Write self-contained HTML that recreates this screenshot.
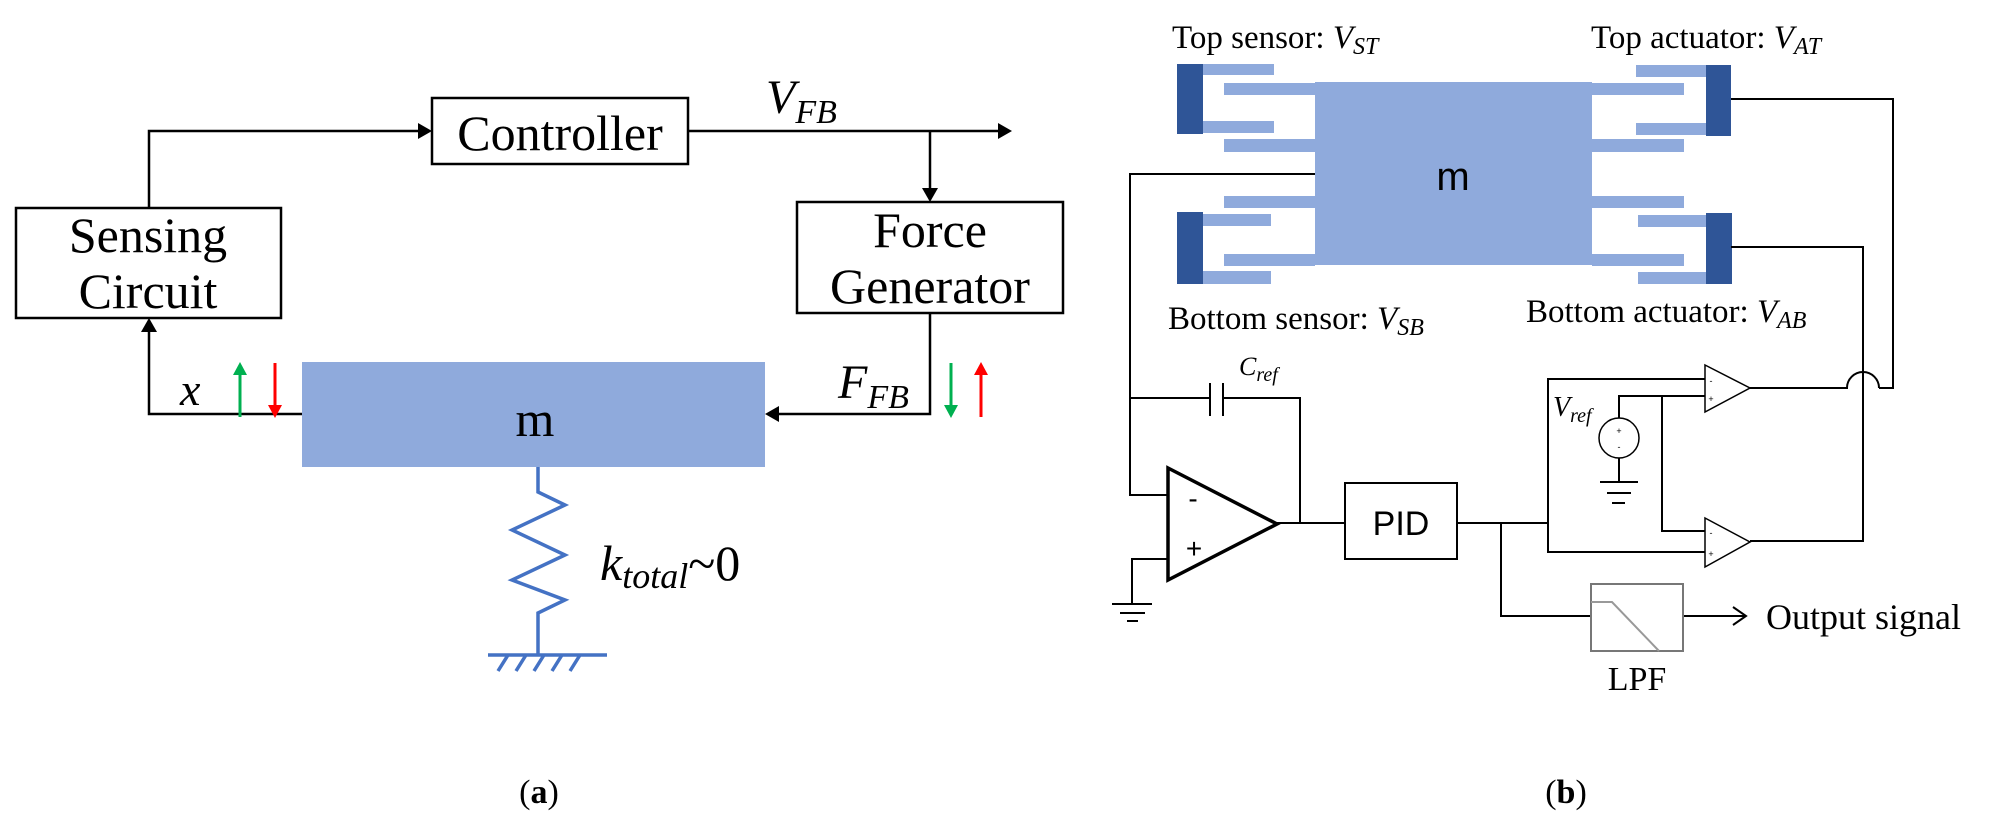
<!DOCTYPE html>
<html><head><meta charset="utf-8"><style>
html,body{margin:0;padding:0;background:#fff;}
svg{display:block;}
text{font-family:"Liberation Serif",serif;fill:#000;}
.s{font-family:"Liberation Sans",sans-serif;}
</style></head><body>
<svg width="2000" height="825" viewBox="0 0 2000 825" xmlns="http://www.w3.org/2000/svg">
<g stroke="#000" stroke-width="2.5" fill="none">
<rect x="432" y="98" width="256" height="66"/>
<rect x="16" y="208" width="265" height="110"/>
<rect x="797" y="202" width="266" height="111"/>
<polyline points="149,208 149,131 420,131"/>
<polyline points="688,131 1000,131"/>
<line x1="930" y1="131" x2="930" y2="190"/>
<polyline points="930,313 930,414 777,414"/>
<polyline points="302,414 149,414 149,330"/>
</g>
<g fill="#000">
<path d="M432,131 l-14,-8 v16z"/>
<path d="M1012,131 l-14,-8 v16z"/>
<path d="M930,202 l-8,-14 h16z"/>
<path d="M765,414 l14,-8 v16z"/>
<path d="M149,318 l-8,14 h16z"/>
</g>
<g stroke-width="3">
<line x1="240" y1="417" x2="240" y2="372" stroke="#00b050"/><path d="M240,362 l-7,13 h14z" fill="#00b050"/>
<line x1="275" y1="363" x2="275" y2="408" stroke="#ff0000"/><path d="M275,418 l-7,-13 h14z" fill="#ff0000"/>
<line x1="951" y1="363" x2="951" y2="408" stroke="#00b050"/><path d="M951,418 l-7,-13 h14z" fill="#00b050"/>
<line x1="981" y1="417" x2="981" y2="372" stroke="#ff0000"/><path d="M981,362 l-7,13 h14z" fill="#ff0000"/>
</g>
<rect x="302" y="362" width="463" height="105" fill="#8faadc"/>
<text x="535" y="436" font-size="50" text-anchor="middle">m</text>
<g stroke="#4472c4" stroke-width="3.5" fill="none">
<polyline points="538,467 538,492 565,505 512,530 565,555 512,580 565,600 538,613 538,655"/>
<line x1="488" y1="655" x2="607" y2="655"/>
<path d="M498,671 l10,-16 M516,671 l10,-16 M534,671 l10,-16 M552,671 l10,-16 M570,671 l10,-16"/>
</g>
<text x="560" y="150" font-size="50" text-anchor="middle">Controller</text>
<text x="148" y="252" font-size="50" text-anchor="middle">Sensing</text>
<text x="148" y="308" font-size="50" text-anchor="middle">Circuit</text>
<text x="930" y="247" font-size="50" text-anchor="middle">Force</text>
<text x="930" y="303" font-size="50" text-anchor="middle">Generator</text>
<text x="766" y="113" font-size="48" font-style="italic">V<tspan font-size="34" dy="10">FB</tspan></text>
<text x="838" y="398" font-size="48" font-style="italic">F<tspan font-size="34" dy="10">FB</tspan></text>
<text x="180" y="405" font-size="46" font-style="italic">x</text>
<text x="600" y="580" font-size="50" font-style="italic">k<tspan font-size="36" dy="8">total</tspan><tspan font-style="normal" font-size="50" dy="-8">~0</tspan></text>
<text x="539" y="803" font-size="34" text-anchor="middle">(<tspan font-weight="bold">a</tspan>)</text>

<g fill="#8faadc">
<rect x="1315" y="82" width="277" height="183"/>
<rect x="1224" y="83" width="91" height="12"/>
<rect x="1224" y="139" width="91" height="13"/>
<rect x="1224" y="196" width="91" height="12"/>
<rect x="1224" y="254" width="91" height="12"/>
<rect x="1203" y="64" width="71" height="11"/>
<rect x="1203" y="121" width="71" height="12"/>
<rect x="1203" y="214" width="68" height="12"/>
<rect x="1203" y="271" width="68" height="13"/>
<rect x="1592" y="83" width="92" height="12"/>
<rect x="1592" y="139" width="92" height="13"/>
<rect x="1592" y="196" width="92" height="12"/>
<rect x="1592" y="254" width="92" height="12"/>
<rect x="1636" y="65" width="70" height="12"/>
<rect x="1636" y="123" width="70" height="12"/>
<rect x="1638" y="215" width="68" height="12"/>
<rect x="1638" y="272" width="68" height="12"/>
</g>
<g fill="#2f5597">
<rect x="1177" y="64" width="26" height="70"/>
<rect x="1177" y="212" width="26" height="72"/>
<rect x="1706" y="65" width="25" height="71"/>
<rect x="1706" y="213" width="26" height="71"/>
</g>
<text class="s" x="1453" y="190" font-size="40" text-anchor="middle">m</text>
<text x="1172" y="48" font-size="33">Top sensor: <tspan font-style="italic">V<tspan font-size="24" dy="6">ST</tspan></tspan></text>
<text x="1591" y="48" font-size="33">Top actuator: <tspan font-style="italic">V<tspan font-size="24" dy="6">AT</tspan></tspan></text>
<text x="1168" y="329" font-size="33">Bottom sensor: <tspan font-style="italic">V<tspan font-size="24" dy="6">SB</tspan></tspan></text>
<text x="1526" y="322" font-size="33">Bottom actuator: <tspan font-style="italic">V<tspan font-size="24" dy="6">AB</tspan></tspan></text>

<g stroke="#000" stroke-width="2" fill="none">
<polyline points="1315,174 1130,174 1130,495 1168,495"/>
<polyline points="1130,398 1210,398"/>
<line x1="1210" y1="383" x2="1210" y2="416"/>
<line x1="1223" y1="383" x2="1223" y2="416"/>
<polyline points="1223,398 1300,398 1300,523"/>
<polyline points="1168,559 1132,559 1132,604"/>
<line x1="1112" y1="604" x2="1152" y2="604"/>
<line x1="1120" y1="613" x2="1145" y2="613"/>
<line x1="1127" y1="621" x2="1138" y2="621"/>
<line x1="1277" y1="523" x2="1345" y2="523"/>
<rect x="1345" y="483" width="112" height="76"/>
<polyline points="1457,523 1548,523"/>
<polyline points="1501,523 1501,616 1591,616"/>
<polyline points="1705,379 1548,379 1548,552 1705,552"/>
<polyline points="1619,418 1619,396 1705,396"/>
<polyline points="1662,396 1662,531 1705,531"/>
<circle cx="1619" cy="438" r="20" stroke-width="1.5"/>
<line x1="1619" y1="458" x2="1619" y2="482"/>
<line x1="1600" y1="482" x2="1638" y2="482"/>
<line x1="1607" y1="493" x2="1631" y2="493"/>
<line x1="1612" y1="503" x2="1625" y2="503"/>
<path d="M1705,365 L1750,388 L1705,412 Z" stroke-width="1.5"/>
<path d="M1705,518 L1750,542 L1705,567 Z" stroke-width="1.5"/>
<polyline points="1731,99 1893,99 1893,388 1879,388"/>
<path d="M1750,388 L1847,388 A16,16 0 0 1 1879,388"/>
<polyline points="1731,247 1863,247 1863,541 1750,541"/>
<line x1="1683" y1="616" x2="1745" y2="616"/>
<polyline points="1733,607 1746,616 1733,625"/>
</g>
<path d="M1168,468 L1277,524 L1168,580 Z" stroke="#000" stroke-width="3.5" fill="none"/>
<text class="s" x="1193" y="508" font-size="28" text-anchor="middle">-</text>
<text class="s" x="1194" y="558" font-size="28" text-anchor="middle">+</text>
<g font-size="9" text-anchor="middle">
<text class="s" x="1711" y="384">-</text><text class="s" x="1711" y="402">+</text>
<text class="s" x="1711" y="536">-</text><text class="s" x="1711" y="557">+</text>
<text class="s" x="1619" y="434">+</text><text class="s" x="1619" y="450">-</text>
</g>
<rect x="1591" y="584" width="92" height="67" fill="none" stroke="#777" stroke-width="2"/>
<polyline points="1591,602 1612,602 1659,651" fill="none" stroke="#999" stroke-width="2"/>
<text class="s" x="1401" y="535" font-size="34" text-anchor="middle">PID</text>
<text x="1637" y="690" font-size="34" text-anchor="middle">LPF</text>
<text x="1766" y="629" font-size="36">Output signal</text>
<text x="1239" y="375" font-size="26" font-style="italic">C<tspan font-size="20" dy="6">ref</tspan></text>
<text x="1553" y="416" font-size="28" font-style="italic">V<tspan font-size="20" dy="6">ref</tspan></text>
<text x="1566" y="803" font-size="34" text-anchor="middle">(<tspan font-weight="bold">b</tspan>)</text>
</svg>
</body></html>
